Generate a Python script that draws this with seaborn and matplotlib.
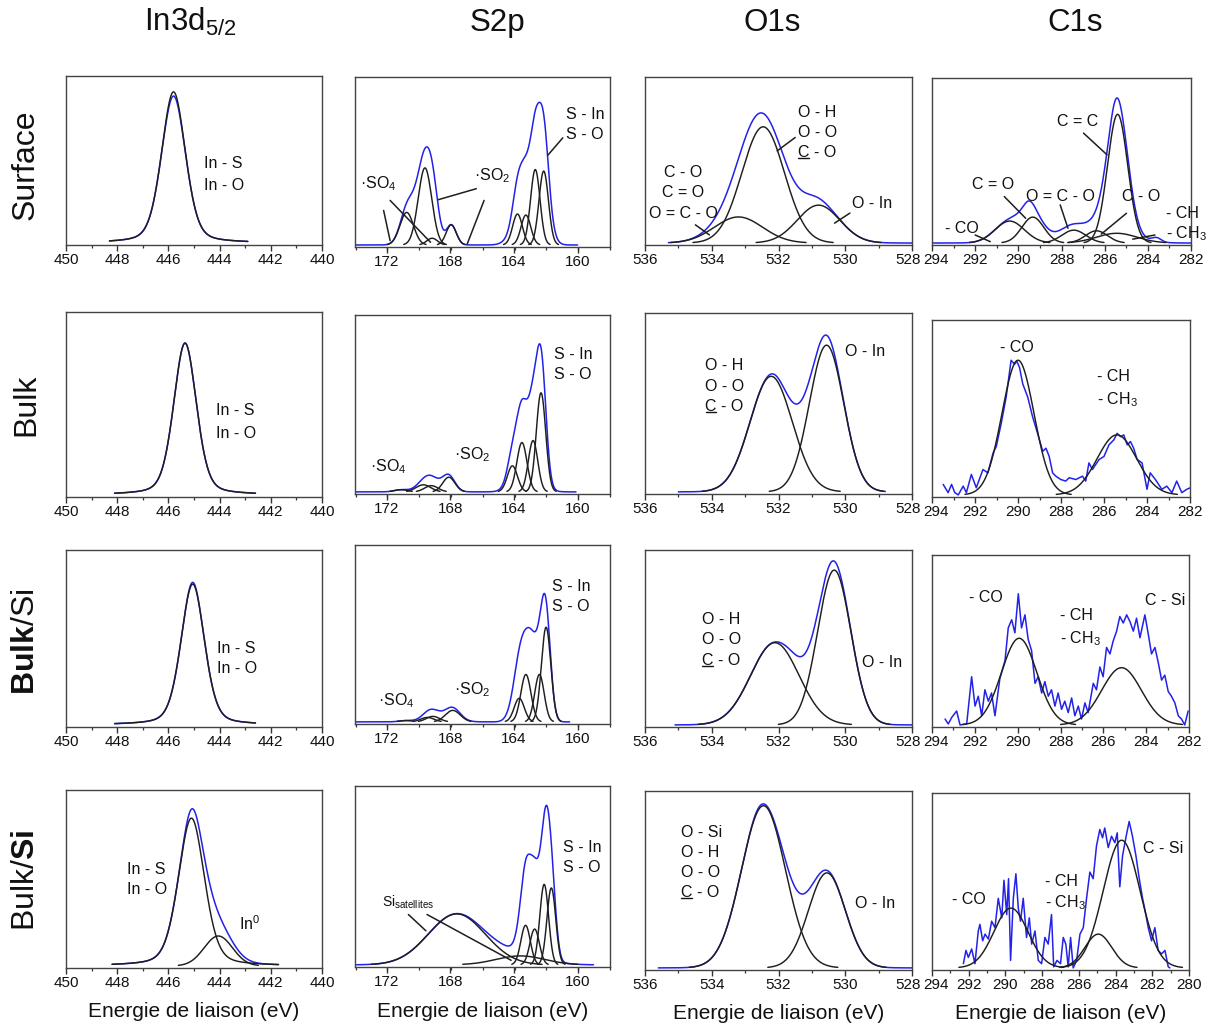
import numpy as np
import pandas as pd
import matplotlib
matplotlib.use("Agg")
import matplotlib.pyplot as plt
import matplotlib.transforms as mtransforms
from matplotlib.lines import Line2D
import seaborn as sns

sns.set_theme(style="ticks")
plt.rcParams["font.family"] = ["Liberation Sans", "DejaVu Sans"]
plt.rcParams["mathtext.fontset"] = "custom"
plt.rcParams["mathtext.rm"] = "Liberation Sans"
plt.rcParams["mathtext.it"] = "Liberation Sans:italic"
plt.rcParams["mathtext.bf"] = "Liberation Sans:bold"
plt.rcParams["mathtext.sf"] = "Liberation Sans"
plt.rcParams["mathtext.default"] = "regular"

W, H, DPI = 1214, 1026, 100

# ------------------------------------------------------------------ labels
COL_TITLES = [r"In3d$_{5/2}$", "S2p", "O1s", "C1s"]
ROW_LABELS = ["Surface", "Bulk", r"$\mathbf{Bulk}$/Si", r"Bulk/$\mathbf{Si}$"]
XLABEL = "Energie de liaison (eV)"

# ------------------------------------------------------------------ axes
IN_XLIM = (450, 440)
IN_TICKS = [450, 448, 446, 444, 442, 440]
S2P_XLIM = (174.0, 157.96)
S2P_TICKS = [172, 168, 164, 160]
O1S_XLIM = (536, 528)
O1S_TICKS = [536, 534, 532, 530, 528]
C1S_XLIM = (294, 282)
C1S_TICKS = [294, 292, 290, 288, 286, 284, 282]
C1S_XLIM4 = (294, 280)
C1S_TICKS4 = [294, 292, 290, 288, 286, 284, 282, 280]

# peaks: (centre eV, height, FWHM eV, lorentz fraction)
# ------------------------------------------------------------------ In3d
IN_SURF_FIT = [(445.80, 0.905, 1.10, 0.30)]
IN_SURF_EXTRA = [(445.80, -0.025, 0.60, 0.0)]
IN_BULK_FIT = [(445.35, 0.830, 1.05, 0.30)]
IN_BULK_EXTRA = []
IN_BSI_FIT = [(445.05, 0.805, 1.08, 0.30)]
IN_BSI_EXTRA = [(445.05, 0.010, 0.50, 0.0)]
IN_BSI2_FIT = [(445.10, 0.840, 1.20, 0.30), (444.05, 0.170, 1.30, 0.0)]
IN_BSI2_EXTRA = [(445.00, 0.025, 0.60, 0.0)]

# ------------------------------------------------------------------ S2p
S2P_SURF_FIT = [(170.75, 0.194, 1.00, 0), (169.60, 0.459, 1.00, 0), (169.15, 0.040, 0.80, 0),
                (167.95, 0.120, 0.75, 0), (163.78, 0.184, 0.72, 0), (163.25, 0.178, 0.72, 0),
                (162.66, 0.449, 0.70, 0), (162.13, 0.440, 0.70, 0)]
S2P_SURF_EXTRA = [(170.20, 0.110, 1.00, 0), (169.05, 0.200, 0.80, 0),
                  (163.30, 0.250, 1.50, 0), (162.10, 0.200, 1.00, 0)]
S2P_BULK_FIT = [(171.10, 0.012, 1.00, 0), (169.70, 0.040, 1.10, 0), (169.20, 0.035, 1.00, 0),
                (168.10, 0.083, 0.90, 0), (164.10, 0.147, 0.75, 0), (163.50, 0.279, 0.75, 0),
                (162.80, 0.290, 0.70, 0), (162.30, 0.560, 0.70, 0)]
S2P_BULK_EXTRA = [(169.00, 0.035, 1.60, 0), (163.20, 0.220, 1.60, 0), (162.20, 0.100, 0.70, 0)]
S2P_BSI_FIT = [(170.80, 0.007, 1.00, 0), (169.45, 0.025, 1.00, 0), (169.10, 0.031, 1.00, 0),
               (167.85, 0.065, 1.10, 0), (163.67, 0.133, 0.75, 0), (163.25, 0.268, 0.75, 0),
               (162.40, 0.268, 0.70, 0), (161.98, 0.535, 0.70, 0)]
S2P_BSI_EXTRA = [(168.60, 0.025, 2.00, 0), (163.75, 0.170, 1.00, 0), (162.85, 0.280, 0.70, 0),
                 (162.10, 0.060, 0.60, 0)]
S2P_BSI2_FIT = [(167.60, 0.285, 4.20, 0), (163.60, 0.050, 3.60, 0), (163.27, 0.221, 0.70, 0),
                (162.70, 0.200, 0.70, 0), (162.10, 0.450, 0.65, 0), (161.65, 0.430, 0.65, 0)]
S2P_BSI2_EXTRA = [(163.20, 0.260, 1.00, 0), (162.60, 0.150, 0.70, 0), (161.95, 0.210, 0.60, 0)]

# ------------------------------------------------------------------ O1s
O1S_SURF_FIT = [(533.20, 0.157, 1.70, 0), (532.46, 0.700, 1.50, 0), (530.80, 0.228, 1.50, 0)]
O1S_SURF_EXTRA = [(532.50, -0.020, 1.00, 0), (530.90, 0.020, 0.80, 0)]
O1S_BULK_FIT = [(532.22, 0.646, 1.49, 0), (530.56, 0.820, 1.21, 0)]
O1S_BULK_EXTRA = [(530.55, 0.035, 0.60, 0), (532.10, 0.010, 0.50, 0)]
O1S_BSI_FIT = [(532.11, 0.470, 1.70, 0), (530.33, 0.885, 1.17, 0)]
O1S_BSI_EXTRA = [(530.40, 0.030, 0.60, 0), (531.60, 0.020, 0.60, 0)]
O1S_BSI2_FIT = [(532.45, 0.917, 1.55, 0), (530.55, 0.537, 1.30, 0)]
O1S_BSI2_EXTRA = [(531.70, 0.010, 0.80, 0), (532.60, 0.010, 0.50, 0)]

# ------------------------------------------------------------------ C1s
C1S_SURF_FIT = [(290.40, 0.133, 1.60, 0), (289.33, 0.157, 1.20, 0), (287.43, 0.078, 1.30, 0),
                (286.38, 0.074, 1.20, 0), (285.40, 0.780, 1.10, 0), (285.44, 0.059, 2.20, 0)]
C1S_SURF_EXTRA = [(289.50, 0.050, 0.60, 0), (287.90, 0.030, 1.50, 0),
                  (285.50, 0.030, 0.50, 0), (283.60, 0.025, 0.50, 0)]
C1S_BULK_FIT = [(290.00, 0.770, 1.75, 0), (285.40, 0.343, 2.16, 0)]
C1S_BSI_FIT = [(289.93, 0.510, 1.94, 0), (285.15, 0.337, 2.18, 0)]
C1S_BSI2_FIT = [(289.70, 0.342, 2.18, 0), (284.94, 0.193, 1.72, 0), (283.67, 0.730, 2.36, 0)]

# measured (noisy) C1s spectra read point by point: (eV, intensity)
C1S_BULK_BLUE = [
    (293.48, 0.060), (293.25, 0.013), (293.09, 0.060), (292.94, 0.013), (292.78, 0.000),
    (292.55, 0.050), (292.40, 0.013), (292.17, 0.117), (291.94, 0.041), (291.63, 0.145),
    (291.40, 0.126), (291.16, 0.239), (291.01, 0.277), (290.78, 0.409), (290.55, 0.560),
    (290.32, 0.770), (290.16, 0.747), (290.06, 0.765), (289.93, 0.729), (289.78, 0.635),
    (289.55, 0.560), (289.32, 0.446), (289.09, 0.352), (288.85, 0.249), (288.70, 0.267),
    (288.55, 0.220), (288.39, 0.126), (288.24, 0.107), (288.01, 0.088), (287.78, 0.079),
    (287.62, 0.098), (287.31, 0.088), (287.00, 0.107), (286.85, 0.079), (286.70, 0.183),
    (286.54, 0.145), (286.39, 0.173), (286.23, 0.202), (286.00, 0.220), (285.77, 0.286),
    (285.54, 0.315), (285.39, 0.352), (285.23, 0.333), (285.08, 0.343), (284.92, 0.286),
    (284.77, 0.305), (284.62, 0.267), (284.46, 0.203), (284.23, 0.183), (284.00, 0.032),
    (283.85, 0.126), (283.61, 0.088), (283.31, 0.032), (283.08, 0.050), (282.84, 0.013),
    (282.62, 0.079), (282.38, 0.013), (282.15, 0.032), (282.00, 0.040)]
C1S_BSI_BLUE = [
    (293.39, 0.035), (293.24, 0.006), (293.08, 0.044), (292.85, 0.082), (292.69, 0.000),
    (292.38, 0.006), (292.15, 0.284), (291.99, 0.111), (291.84, 0.169), (291.68, 0.054),
    (291.53, 0.207), (291.37, 0.140), (291.22, 0.188), (291.06, 0.054), (290.83, 0.274),
    (290.59, 0.379), (290.44, 0.571), (290.28, 0.619), (290.13, 0.542), (289.97, 0.772),
    (289.82, 0.571), (289.66, 0.648), (289.51, 0.504), (289.35, 0.437), (289.19, 0.245),
    (289.04, 0.284), (288.88, 0.188), (288.73, 0.255), (288.57, 0.169), (288.42, 0.207),
    (288.26, 0.111), (288.11, 0.188), (287.95, 0.092), (287.80, 0.140), (287.64, 0.073),
    (287.48, 0.159), (287.33, 0.054), (287.17, 0.111), (287.02, 0.035), (286.86, 0.130),
    (286.71, 0.073), (286.47, 0.245), (286.32, 0.207), (286.16, 0.341), (286.01, 0.284),
    (285.85, 0.456), (285.69, 0.418), (285.54, 0.494), (285.38, 0.552), (285.23, 0.638),
    (285.07, 0.600), (284.91, 0.648), (284.76, 0.609), (284.60, 0.552), (284.45, 0.628),
    (284.29, 0.513), (284.06, 0.648), (283.90, 0.533), (283.75, 0.418), (283.59, 0.456),
    (283.44, 0.370), (283.28, 0.264), (283.13, 0.293), (282.97, 0.197), (282.82, 0.169),
    (282.66, 0.130), (282.50, 0.054), (282.35, 0.035), (282.20, 0.000), (282.04, 0.082)]
C1S_BSI2_BLUE = [
    (292.29, 0.024), (292.15, 0.100), (292.02, 0.060), (291.84, 0.108), (291.66, 0.024),
    (291.48, 0.211), (291.39, 0.249), (291.24, 0.155), (291.11, 0.193), (290.93, 0.165),
    (290.75, 0.267), (290.57, 0.230), (290.39, 0.398), (290.20, 0.286), (290.08, 0.501),
    (289.93, 0.305), (289.83, 0.510), (289.72, 0.043), (289.57, 0.398), (289.43, 0.538),
    (289.30, 0.342), (289.18, 0.267), (289.03, 0.398), (288.85, 0.174), (288.70, 0.286),
    (288.57, 0.136), (288.39, 0.211), (288.21, 0.043), (288.03, 0.024), (287.85, 0.174),
    (287.67, 0.136), (287.49, 0.305), (287.37, 0.006), (287.19, 0.043), (287.00, 0.024),
    (286.85, 0.174), (286.71, 0.136), (286.58, 0.006), (286.45, 0.174), (286.31, 0.000),
    (286.12, 0.043), (285.94, 0.193), (285.76, 0.230), (285.58, 0.398), (285.40, 0.548),
    (285.22, 0.510), (285.04, 0.697), (284.86, 0.791), (284.71, 0.744), (284.59, 0.800),
    (284.40, 0.688), (284.22, 0.753), (284.04, 0.716), (283.91, 0.772), (283.77, 0.464),
    (283.62, 0.641), (283.44, 0.744), (283.26, 0.837), (283.08, 0.753), (282.89, 0.641),
    (282.71, 0.510), (282.53, 0.398), (282.35, 0.305), (282.22, 0.230), (282.04, 0.155),
    (281.86, 0.230), (281.68, 0.100), (281.50, 0.080), (281.31, 0.100), (281.13, 0.006),
    (281.04, 0.000)]

# energy span of each measured (blue) spectrum
IN_RANGES = [(448.3, 442.9), (448.1, 442.6), (448.1, 442.6), (448.2, 441.7)]
S2P_RANGES = [(174.0, 160.0), (174.0, 160.1), (174.0, 160.5), (173.9, 159.0)]
O1S_RANGES = [(535.3, 528.0), (535.0, 528.8), (535.1, 528.0), (535.6, 528.0)]
C1S_RANGES = [(294.0, 282.0), (294.0, 282.0), (294.0, 282.0), (294.0, 280.0)]

# ------------------------------------------------------------------ annotations
# (x in eV, y as axes fraction, text, horizontal alignment); "C\u0332" = underlined C
IN_SURF_TXT = [(444.6, 0.485, "In - S", "left"), (444.6, 0.35, "In - O", "left")]
IN_BULK_TXT = [(444.13, 0.466, "In - S", "left"), (444.13, 0.341, "In - O", "left")]
IN_BSI_TXT = [(444.1, 0.444, "In - S", "left"), (444.1, 0.33, "In - O", "left")]
IN_BSI2_TXT = [(447.6, 0.556, "In - S", "left"), (447.6, 0.44, "In - O", "left"),
               (443.25, 0.25, "In$^0$", "left")]
S2P_SURF_TXT = [(173.68, 0.373, "·SO$_4$", "left"), (166.53, 0.422, "·SO$_2$", "left"),
                (160.72, 0.78, "S - In", "left"), (160.72, 0.662, "S - O", "left")]
S2P_BULK_TXT = [(173.04, 0.155, "·SO$_4$", "left"), (167.8, 0.22, "·SO$_2$", "left"),
                (161.5, 0.78, "S - In", "left"), (161.5, 0.667, "S - O", "left")]
S2P_BSI_TXT = [(172.56, 0.129, "·SO$_4$", "left"), (167.78, 0.194, "·SO$_2$", "left"),
               (161.58, 0.77, "S - In", "left"), (161.58, 0.659, "S - O", "left")]
S2P_BSI2_TXT = [(160.91, 0.658, "S - In", "left"), (160.91, 0.547, "S - O", "left")]
S2P_BSI2_SMALL = [(172.32, 0.36, "Si$_{satellites}$", "left")]
O1S_SURF_TXT = [(531.43, 0.786, "O - H", "left"), (531.43, 0.667, "O - O", "left"),
                (531.43, 0.548, "C\u0332 - O", "left"), (534.86, 0.429, "C - O", "center"),
                (534.86, 0.31, "C = O", "center"), (534.86, 0.19, "O = C - O", "center"),
                (529.8, 0.25, "O - In", "left")]
O1S_BULK_TXT = [(534.19, 0.71, "O - H", "left"), (534.19, 0.594, "O - O", "left"),
                (534.19, 0.483, "C\u0332 - O", "left"), (530.0, 0.79, "O - In", "left")]
O1S_BSI_TXT = [(534.3, 0.61, "O - H", "left"), (534.3, 0.492, "O - O", "left"),
               (534.3, 0.374, "C\u0332 - O", "left"), (529.5, 0.367, "O - In", "left")]
O1S_BSI2_TXT = [(534.93, 0.77, "O - Si", "left"), (534.93, 0.657, "O - H", "left"),
                (534.93, 0.546, "O - O", "left"), (534.93, 0.435, "C\u0332 - O", "left"),
                (529.72, 0.37, "O - In", "left")]
C1S_SURF_TXT = [(288.21, 0.737, "C = C", "left"), (292.14, 0.36, "C = O", "left"),
                (289.64, 0.293, "O = C - O", "left"), (285.22, 0.293, "C - O", "left"),
                (293.4, 0.10, "- CO", "left"), (283.18, 0.19, "- CH", "left"),
                (283.18, 0.066, "- CH$_3$", "left")]
C1S_BULK_TXT = [(290.86, 0.846, "- CO", "left"), (286.31, 0.68, "- CH", "left"),
                (286.31, 0.55, "- CH$_3$", "left")]
C1S_BSI_TXT = [(292.26, 0.753, "- CO", "left"), (288.03, 0.648, "- CH", "left"),
               (288.03, 0.513, "- CH$_3$", "left"), (284.06, 0.734, "C - Si", "left")]
C1S_BSI2_TXT = [(292.93, 0.398, "- CO", "left"), (287.85, 0.50, "- CH", "left"),
                (287.85, 0.38, "- CH$_3$", "left"), (282.5, 0.688, "C - Si", "left")]

# leader lines: ((x1 eV, y1 frac), (x2 eV, y2 frac))
S2P_SURF_LINES = [((172.20, 0.215), (171.79, 0.037)), ((171.79, 0.274), (169.25, 0.028)),
                  ((166.37, 0.343), (168.77, 0.278)), ((165.88, 0.274), (166.94, 0.018)),
                  ((160.93, 0.642), (161.87, 0.540))]
S2P_BSI2_LINES = [((170.64, 0.29), (169.54, 0.20)), ((169.47, 0.29), (164.18, 0.037))]
O1S_SURF_LINES = [((531.50, 0.640), (532.04, 0.560)), ((534.49, 0.120), (534.07, 0.060)),
                  ((529.86, 0.190), (530.32, 0.130))]
C1S_SURF_LINES = [((286.98, 0.670), (285.89, 0.540)), ((290.65, 0.290), (289.66, 0.160)),
                  ((288.06, 0.240), (287.70, 0.100)), ((284.99, 0.190), (286.16, 0.065)),
                  ((292.00, 0.060), (291.30, 0.020)), ((283.67, 0.060), (284.70, 0.035))]

# axes boxes in pixels (left, top, right, bottom)
BOXES = [
    [(66, 76, 322, 245), (355, 77, 610, 247), (645, 77, 912, 245), (932, 78, 1191, 245)],
    [(66, 312, 322, 497), (355, 315, 610, 494), (645, 313, 912, 494), (932, 320, 1190, 497)],
    [(66, 550, 322, 727), (355, 545, 610, 724), (645, 550, 912, 727), (932, 555, 1189, 727)],
    [(66, 790, 322, 968), (355, 786, 610, 967), (645, 791, 912, 970), (932, 793, 1189, 970)],
]

BLUE = "#2222e8"
DARK = "#1e1e1e"
TXT_FS = 11.5


def pv(x, c, h, w, eta):
    g = np.exp(-4 * np.log(2) * ((x - c) / w) ** 2)
    lo = 1.0 / (1.0 + 4 * ((x - c) / w) ** 2)
    return h * ((1 - eta) * g + eta * lo)


def spectrum(peaks, rng, n=700):
    e = np.linspace(rng[0], rng[1], n)
    y = np.zeros_like(e)
    for p in peaks:
        y = y + pv(e, *p)
    return e, y


def panel(xlim, ticks, step, fit, rng, txt, lines, extra=None, blue=None, small=None):
    return dict(xlim=xlim, ticks=ticks, step=step, fit=fit, rng=rng, txt=txt, lines=lines,
                extra=extra or [], blue=blue, small=small or [])


PANELS = [
    [panel(IN_XLIM, IN_TICKS, 1, IN_SURF_FIT, IN_RANGES[0], IN_SURF_TXT, [], extra=IN_SURF_EXTRA),
     panel(S2P_XLIM, S2P_TICKS, 2, S2P_SURF_FIT, S2P_RANGES[0], S2P_SURF_TXT, S2P_SURF_LINES,
           extra=S2P_SURF_EXTRA),
     panel(O1S_XLIM, O1S_TICKS, 1, O1S_SURF_FIT, O1S_RANGES[0], O1S_SURF_TXT, O1S_SURF_LINES,
           extra=O1S_SURF_EXTRA),
     panel(C1S_XLIM, C1S_TICKS, 1, C1S_SURF_FIT, C1S_RANGES[0], C1S_SURF_TXT, C1S_SURF_LINES,
           extra=C1S_SURF_EXTRA)],
    [panel(IN_XLIM, IN_TICKS, 1, IN_BULK_FIT, IN_RANGES[1], IN_BULK_TXT, [], extra=IN_BULK_EXTRA),
     panel(S2P_XLIM, S2P_TICKS, 2, S2P_BULK_FIT, S2P_RANGES[1], S2P_BULK_TXT, [], extra=S2P_BULK_EXTRA),
     panel(O1S_XLIM, O1S_TICKS, 1, O1S_BULK_FIT, O1S_RANGES[1], O1S_BULK_TXT, [], extra=O1S_BULK_EXTRA),
     panel(C1S_XLIM, C1S_TICKS, 1, C1S_BULK_FIT, C1S_RANGES[1], C1S_BULK_TXT, [], blue=C1S_BULK_BLUE)],
    [panel(IN_XLIM, IN_TICKS, 1, IN_BSI_FIT, IN_RANGES[2], IN_BSI_TXT, [], extra=IN_BSI_EXTRA),
     panel(S2P_XLIM, S2P_TICKS, 2, S2P_BSI_FIT, S2P_RANGES[2], S2P_BSI_TXT, [], extra=S2P_BSI_EXTRA),
     panel(O1S_XLIM, O1S_TICKS, 1, O1S_BSI_FIT, O1S_RANGES[2], O1S_BSI_TXT, [], extra=O1S_BSI_EXTRA),
     panel(C1S_XLIM, C1S_TICKS, 1, C1S_BSI_FIT, C1S_RANGES[2], C1S_BSI_TXT, [], blue=C1S_BSI_BLUE)],
    [panel(IN_XLIM, IN_TICKS, 1, IN_BSI2_FIT, IN_RANGES[3], IN_BSI2_TXT, [], extra=IN_BSI2_EXTRA),
     panel(S2P_XLIM, S2P_TICKS, 2, S2P_BSI2_FIT, S2P_RANGES[3], S2P_BSI2_TXT, S2P_BSI2_LINES,
           extra=S2P_BSI2_EXTRA, small=S2P_BSI2_SMALL),
     panel(O1S_XLIM, O1S_TICKS, 1, O1S_BSI2_FIT, O1S_RANGES[3], O1S_BSI2_TXT, [], extra=O1S_BSI2_EXTRA),
     panel(C1S_XLIM4, C1S_TICKS4, 1, C1S_BSI2_FIT, C1S_RANGES[3], C1S_BSI2_TXT, [], blue=C1S_BSI2_BLUE)],
]

fig = plt.figure(figsize=(W / DPI, H / DPI), dpi=DPI)
fig.patch.set_facecolor("white")
underline_jobs = []

for r in range(4):
    for c in range(4):
        P = PANELS[r][c]
        l, t, rr, b = BOXES[r][c]
        ax = fig.add_axes([l / W, 1 - b / H, (rr - l) / W, (b - t) / H])
        ax.set_facecolor("white")

        # measured spectrum (blue)
        if P["blue"] is not None:
            df = pd.DataFrame(P["blue"], columns=["E", "I"])
        else:
            e, y = spectrum(P["fit"] + P["extra"], P["rng"])
            df = pd.DataFrame({"E": e, "I": y})
        sns.lineplot(data=df, x="E", y="I", ax=ax, color=BLUE, linewidth=1.1,
                     estimator=None, sort=False, zorder=2)

        # fitted components (black)
        for p in P["fit"]:
            e, y = spectrum([p], P["rng"], n=900)
            m = y > 0.003
            cdf = pd.DataFrame({"E": e[m], "I": y[m]})
            sns.lineplot(data=cdf, x="E", y="I", ax=ax, color=DARK, linewidth=1.05,
                         estimator=None, sort=False, zorder=3)

        ax.set_xlim(*P["xlim"])
        ax.set_ylim(-0.012, 1.0)
        ax.set_xlabel("")
        ax.set_ylabel("")
        ax.set_yticks([])
        ax.set_xticks(P["ticks"])
        lo, hi = min(P["xlim"]), max(P["xlim"])
        ax.set_xticks(np.arange(lo, hi + 0.01, P["step"]), minor=True)
        ax.set_xticklabels([str(v) for v in P["ticks"]])
        ax.tick_params(axis="x", which="major", direction="out", length=4, width=1.0,
                       labelsize=11, pad=2, colors="#333", labelcolor="#111")
        ax.tick_params(axis="x", which="minor", direction="out", length=2.5, width=0.9, colors="#333")
        for s in ax.spines.values():
            s.set_color("#444")
            s.set_linewidth(1.0)

        # nudge the touching end labels between the O1s and C1s columns
        labels = ax.get_xticklabels()
        if c == 2:
            off = mtransforms.ScaledTranslation(-4 / DPI, 0, fig.dpi_scale_trans)
            labels[-1].set_transform(labels[-1].get_transform() + off)
        if c == 3:
            off = mtransforms.ScaledTranslation(4 / DPI, 0, fig.dpi_scale_trans)
            labels[0].set_transform(labels[0].get_transform() + off)

        tr = ax.get_xaxis_transform()
        for (x, y, s, ha) in P["txt"]:
            if "\u0332" in s:
                s = s.replace("\u0332", "")
                underline_jobs.append((ax, x, y))
            ax.text(x, y, s, transform=tr, ha=ha, va="center", fontsize=TXT_FS, color="#111",
                    clip_on=False, zorder=5)
        for (x, y, s, ha) in P["small"]:
            ax.text(x, y, s, transform=tr, ha=ha, va="center", fontsize=10, color="#111",
                    clip_on=False, zorder=5)
        for (p1, p2) in P["lines"]:
            ax.plot([p1[0], p2[0]], [p1[1], p2[1]], transform=tr, color=DARK, lw=1.1,
                    zorder=4, clip_on=False)

        if r == 3:
            ax.text(0.5, -0.245, XLABEL, transform=ax.transAxes, ha="center", va="center",
                    fontsize=15, color="#111")

# column titles
for x, s in zip([190, 497, 772, 1075], COL_TITLES):
    fig.text(x / W, 1 - 31 / H, s, ha="center", va="baseline", fontsize=22.5, color="#111")
# row labels
for y, s in zip([165, 405, 642, 880], ROW_LABELS):
    fig.text(26 / W, 1 - y / H, s, ha="center", va="center", rotation=90, fontsize=23,
             color="#111")

# underline the "C" of the "C - O" labels
fig.canvas.draw()
renderer = fig.canvas.get_renderer()
inv = fig.transFigure.inverted()
for (ax, x, y) in underline_jobs:
    tmp = ax.text(x, y, "C", transform=ax.get_xaxis_transform(), ha="left", va="center",
                  fontsize=TXT_FS)
    bb = tmp.get_window_extent(renderer)
    tmp.remove()
    yy = bb.y0 + 2.0
    (fx0, fy0), (fx1, fy1) = inv.transform([(bb.x0 + 0.5, yy), (bb.x1 - 0.5, yy)])
    fig.add_artist(Line2D([fx0, fx1], [fy0, fy1], transform=fig.transFigure, color="#111", lw=1.0))

fig.savefig("out.png", dpi=DPI, facecolor="white")
